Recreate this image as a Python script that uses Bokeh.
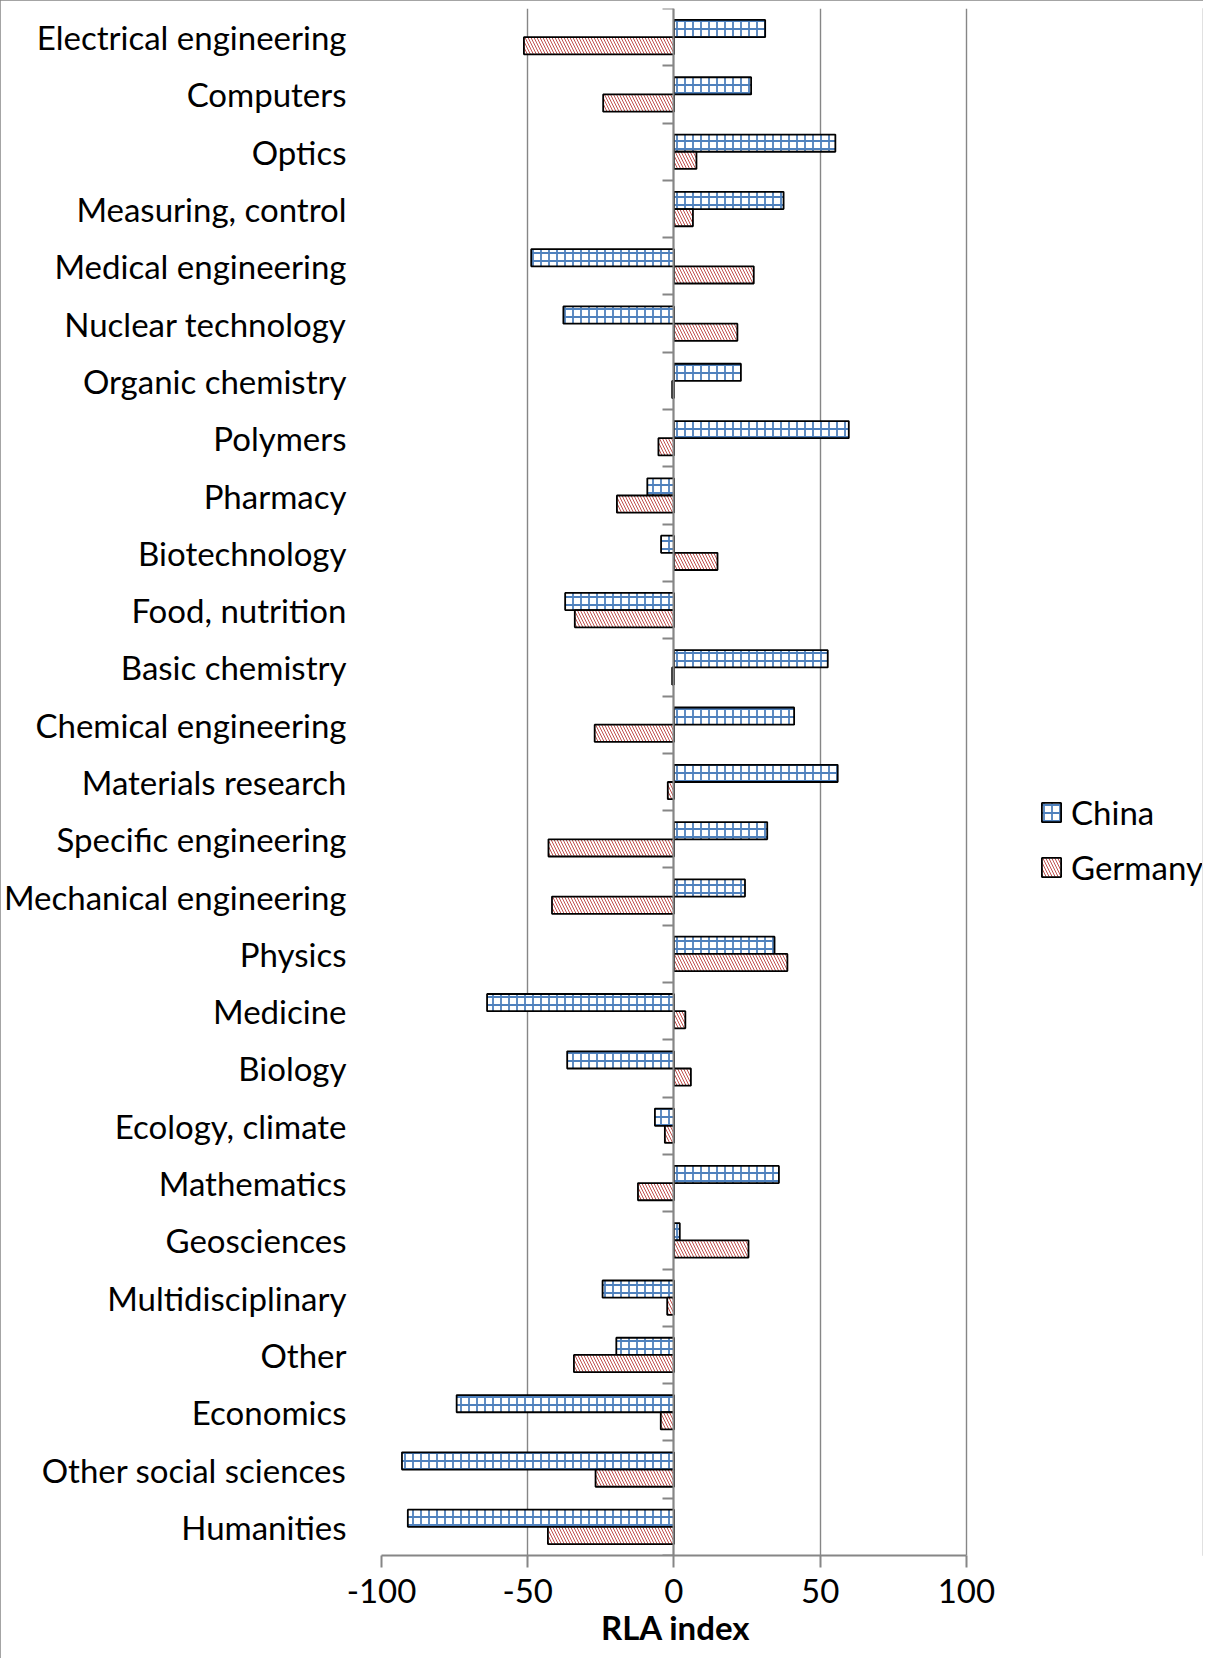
from bokeh.plotting import figure
from bokeh.models import Range1d, FixedTicker, LinearAxis, Legend, LegendItem, ColumnDataSource, Title
from bokeh.embed import file_html
from bokeh.resources import INLINE

categories = [
    "Electrical engineering", "Computers", "Optics", "Measuring, control",
    "Medical engineering", "Nuclear technology", "Organic chemistry", "Polymers",
    "Pharmacy", "Biotechnology", "Food, nutrition", "Basic chemistry",
    "Chemical engineering", "Materials research", "Specific engineering",
    "Mechanical engineering", "Physics", "Medicine", "Biology", "Ecology, climate",
    "Mathematics", "Geosciences", "Multidisciplinary", "Other", "Economics",
    "Other social sciences", "Humanities",
]
china = [31.2, 26.4, 55.2, 37.5, -48.8, -37.8, 22.9, 59.8, -9.1, -4.4, -37.2, 52.6,
         41.1, 56.0, 31.9, 24.3, 34.4, -63.9, -36.5, -6.5, 35.9, 2.0, -24.4, -19.7,
         -74.3, -93.0, -91.0]
germany = [-51.3, -24.2, 7.7, 6.5, 27.3, 21.7, -0.6, -5.3, -19.5, 14.9, -33.9, -0.6,
           -27.1, -2.1, -42.9, -41.7, 38.8, 3.9, 5.8, -3.1, -12.3, 25.5, -2.3, -34.2,
           -4.5, -26.8, -43.1]
series_names = ["China", "Germany"]
x_ticks = [-100, -50, 0, 50, 100]
x_tick_labels = ["-100", "-50", "0", "50", "100"]
x_title = "RLA index"

FONT = "Lato"
FS = "33px"
GRAY = "#868686"
BLUE = "#4F81BD"
RED = "#C0504D"

# layout (pixels)
W, H = 1203, 1658
LEFT, RIGHT, TOP, BOTTOM = 378, 1, 8, 103
AXIS_PX = 587          # width of the -100..100 span
TITLE_W = 148          # approx. rendered width of the axis title
frame_w = W - LEFT - RIGHT
x_end = x_ticks[0] + (x_ticks[-1] - x_ticks[0]) * frame_w / AXIS_PX

n = len(categories)
idx = list(range(n))
bar_h = 0.3
src = ColumnDataSource(dict(
    cat=categories,
    china=china,
    germany=germany,
    y_china=[i - bar_h / 2 for i in idx],
    y_germany=[i + bar_h / 2 for i in idx],
))

p = figure(width=W, height=H,
           x_range=Range1d(x_ticks[0], x_end), y_range=Range1d(n - 0.5, -0.5),
           output_backend="svg", toolbar_location=None,
           min_border_left=LEFT, min_border_right=RIGHT,
           min_border_top=TOP, min_border_bottom=BOTTOM)
p.outline_line_color = None
p.background_fill_color = "white"
p.border_fill_color = "white"
p.styles = {"outline": "1.5px solid #868686", "outline-offset": "-1.5px"}

# grid
p.ygrid.visible = False
p.xgrid.ticker = FixedTicker(ticks=x_ticks)
p.xgrid.grid_line_color = GRAY
p.xgrid.grid_line_width = 1.4

r_china = p.hbar(y="y_china", height=bar_h, left=0, right="china", source=src,
                 fill_color="white", hatch_pattern="+", hatch_color=BLUE,
                 hatch_scale=8, hatch_weight=1.8,
                 line_color="black", line_width=1.8)
r_germany = p.hbar(y="y_germany", height=bar_h, left=0, right="germany", source=src,
                   fill_color="white", hatch_pattern="\\", hatch_color=RED,
                   hatch_scale=6, hatch_weight=1.0,
                   line_color="black", line_width=1.8)

# category labels axis (left)
ya = p.yaxis[0]
ya.ticker = FixedTicker(ticks=idx)
overrides = {}
for i, c in enumerate(categories):
    overrides[i] = c
    overrides[str(i)] = c
ya.major_label_overrides = overrides
ya.axis_line_color = None
ya.major_tick_line_color = None
ya.minor_tick_line_color = None
ya.major_tick_out = 0
ya.major_tick_in = 0
ya.minor_tick_out = 0
ya.minor_tick_in = 0
ya.major_label_standoff = 35
ya.major_label_text_font = FONT
ya.major_label_text_font_size = FS
ya.major_label_text_color = "black"

# category axis at zero with boundary ticks
zero_axis = LinearAxis(fixed_location=0,
                       ticker=FixedTicker(ticks=[i - 0.5 for i in range(n + 1)]),
                       major_label_text_font_size="0px", major_label_text_alpha=0,
                       axis_line_color=GRAY, axis_line_width=2,
                       major_tick_line_color=GRAY, major_tick_line_width=2,
                       major_tick_out=11, major_tick_in=0,
                       minor_tick_out=0, minor_tick_in=0, minor_tick_line_color=None)
p.add_layout(zero_axis, "left")

# x axis
xa = p.xaxis[0]
xa.ticker = FixedTicker(ticks=x_ticks)
xa.bounds = (x_ticks[0], x_ticks[-1])
xa.major_label_overrides = {t: l for t, l in zip(x_ticks, x_tick_labels)}
xa.axis_line_color = GRAY
xa.axis_line_width = 2
xa.major_tick_line_color = GRAY
xa.major_tick_line_width = 2
xa.major_tick_out = 12
xa.major_tick_in = 0
xa.minor_tick_line_color = None
xa.minor_tick_out = 0
xa.major_label_standoff = 11
xa.major_label_text_font = FONT
xa.major_label_text_font_size = FS
xa.major_label_text_color = "black"

# axis title, centred under the -100..100 span
title = Title(text=x_title, align="left", offset=AXIS_PX / 2 - TITLE_W / 2,
              standoff=0, vertical_align="middle",
              text_font=FONT, text_font_size=FS, text_font_style="bold",
              text_color="black")
p.add_layout(title, "below")

legend = Legend(items=[LegendItem(label=series_names[0], renderers=[r_china]),
                       LegendItem(label=series_names[1], renderers=[r_germany])],
                location=(658, 668), orientation="vertical",
                glyph_width=24, glyph_height=24, label_height=24,
                label_standoff=8, spacing=15, padding=0, margin=0,
                label_text_font=FONT, label_text_font_size=FS,
                label_text_color="black",
                background_fill_alpha=0, border_line_alpha=0)
p.add_layout(legend, "center")

open("out.html", "w").write(file_html(p, INLINE))
